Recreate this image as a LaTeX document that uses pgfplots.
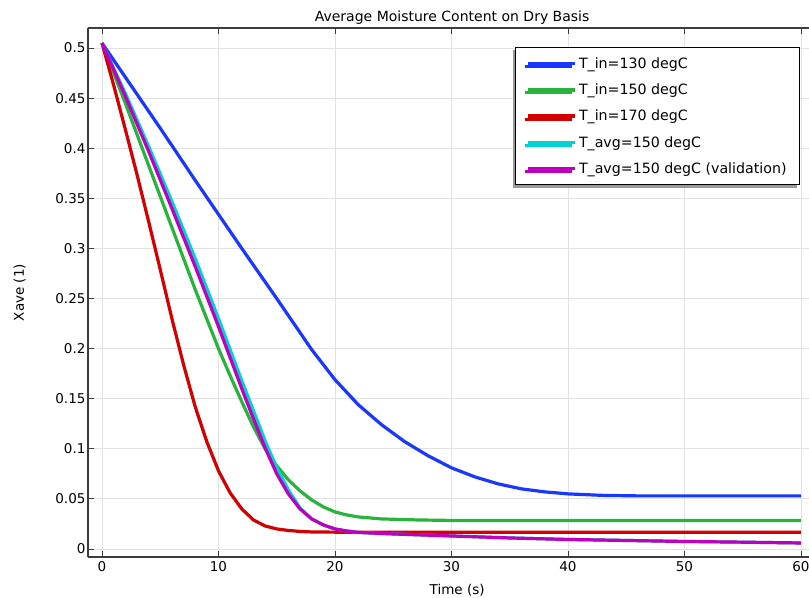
\documentclass[border=0pt]{standalone}
\usepackage{pgfplots}
\pgfplotsset{compat=1.18}
\usepackage{fontspec}
\setmainfont{DejaVu Sans}
\usetikzlibrary{shadows}
\definecolor{cblue}{RGB}{25,55,255}
\definecolor{cgreen}{RGB}{40,180,60}
\definecolor{cred}{RGB}{210,0,0}
\definecolor{ccyan}{RGB}{0,210,210}
\definecolor{cmag}{RGB}{190,0,190}
\definecolor{gridc}{RGB}{225,225,225}
\definecolor{spine}{RGB}{60,60,60}
\begin{document}
\begin{tikzpicture}
\begin{axis}[name=ax,
  scale only axis, width=721pt, height=529pt,
  xmin=-1.2, xmax=60.69, ymin=-0.008, ymax=0.52,
  axis x line=box, axis y line*=left,
  axis line style={spine, line width=1.2pt},
  xtick={0,10,...,60},
  ytick={0,0.05,...,0.5},
  tick align=inside,
  major tick length=6pt,
  tick style={spine, line width=0.9pt},
  grid=major,
  grid style={gridc, line width=0.9pt},
  yticklabel style={/pgf/number format/fixed, /pgf/number format/precision=2, xshift=1pt},
  /pgf/number format/assume math mode=true,
  tick label style={font=\fontsize{13.5}{15}\selectfont},
  xticklabel style={yshift=-1pt},
  xlabel={Time (s)}, ylabel={Xave (1)},
  label style={font=\fontsize{13.5}{15}\selectfont},
  xlabel style={at={(axis description cs:0.512,0)}, anchor=north, yshift=-24pt},
  ylabel style={at={(axis description cs:-0.108,0.5)}, anchor=north},
  title={Average Moisture Content on Dry Basis},
  title style={font=\fontsize{14}{16}\selectfont, at={(axis description cs:0.505,1)}, anchor=base, yshift=0pt},
  legend cell align=left,
  legend style={at={(0.9875,0.964)}, anchor=north east, draw=black, line width=0.8pt, fill=white,
    font=\fontsize{14.2}{16}\selectfont, row sep=10pt, inner xsep=11pt, inner ysep=8pt,
    nodes={inner xsep=2pt},
    drop shadow={shadow xshift=-3pt, shadow yshift=-3pt, fill=gray!80, opacity=1}},
  legend image code/.code={\draw[#1, line width=3.5pt] (4pt,0pt) -- (51pt,0pt);},
  every axis plot/.append style={line width=3.2pt},
]
\addplot[cblue] coordinates {
(0,0.505) (2,0.471) (5,0.420) (8,0.368) (10,0.334) (12,0.300) (15,0.250) (18,0.199) (20,0.169) (22,0.144) (24,0.124) (26,0.107) (28,0.093) (30,0.081) (32,0.072) (34,0.065) (36,0.060) (38,0.057) (40,0.055) (43,0.0535) (46,0.053) (50,0.053) (55,0.053) (60,0.053)
};
\addlegendentry{T\_in=130 degC}
\addplot[cgreen] coordinates {
(0,0.505) (2,0.445) (4,0.383) (6,0.321) (8,0.259) (10,0.200) (11,0.173) (12,0.147) (13,0.122) (14,0.100) (15,0.083) (16,0.069) (17,0.058) (18,0.049) (19,0.042) (20,0.037) (21,0.034) (22,0.032) (24,0.030) (27,0.029) (30,0.0285) (40,0.0285) (50,0.0285) (60,0.0285)
};
\addlegendentry{T\_in=150 degC}
\addplot[cred] coordinates {
(0,0.505) (1,0.463) (2,0.419) (3,0.374) (4,0.327) (5,0.279) (6,0.230) (7,0.184) (8,0.142) (9,0.107) (10,0.078) (11,0.056) (12,0.040) (13,0.029) (14,0.023) (15,0.020) (16,0.0185) (17,0.0175) (18,0.017) (20,0.0168) (25,0.0167) (30,0.0167) (40,0.0167) (50,0.0167) (60,0.0167)
};
\addlegendentry{T\_in=170 degC}
\addplot[ccyan] coordinates {
(0,0.505) (2,0.455) (4,0.402) (6,0.347) (8,0.290) (10,0.230) (11,0.199) (12,0.168) (13,0.138) (14,0.108) (15,0.081) (16,0.059) (17,0.041) (18,0.030) (19,0.024) (20,0.020) (21,0.018) (22,0.0165) (25,0.015) (30,0.013) (35,0.011) (40,0.0095) (45,0.0085) (50,0.0075) (55,0.0068) (60,0.006)
};
\addlegendentry{T\_avg=150 degC}
\addplot[cmag] coordinates {
(0,0.505) (2,0.452) (4,0.397) (6,0.340) (8,0.282) (10,0.222) (11,0.191) (12,0.160) (13,0.130) (14,0.101) (15,0.075) (16,0.055) (17,0.040) (18,0.030) (19,0.024) (20,0.020) (21,0.018) (22,0.0165) (25,0.015) (30,0.013) (35,0.011) (40,0.0095) (45,0.0085) (50,0.0075) (55,0.0068) (60,0.006)
};
\addlegendentry{T\_avg=150 degC (validation)}
\end{axis}
\pgfresetboundingbox
\useasboundingbox ([xshift=-88pt,yshift=-41pt]ax.south west) rectangle ([yshift=28pt]ax.north east);
\end{tikzpicture}
\end{document}
